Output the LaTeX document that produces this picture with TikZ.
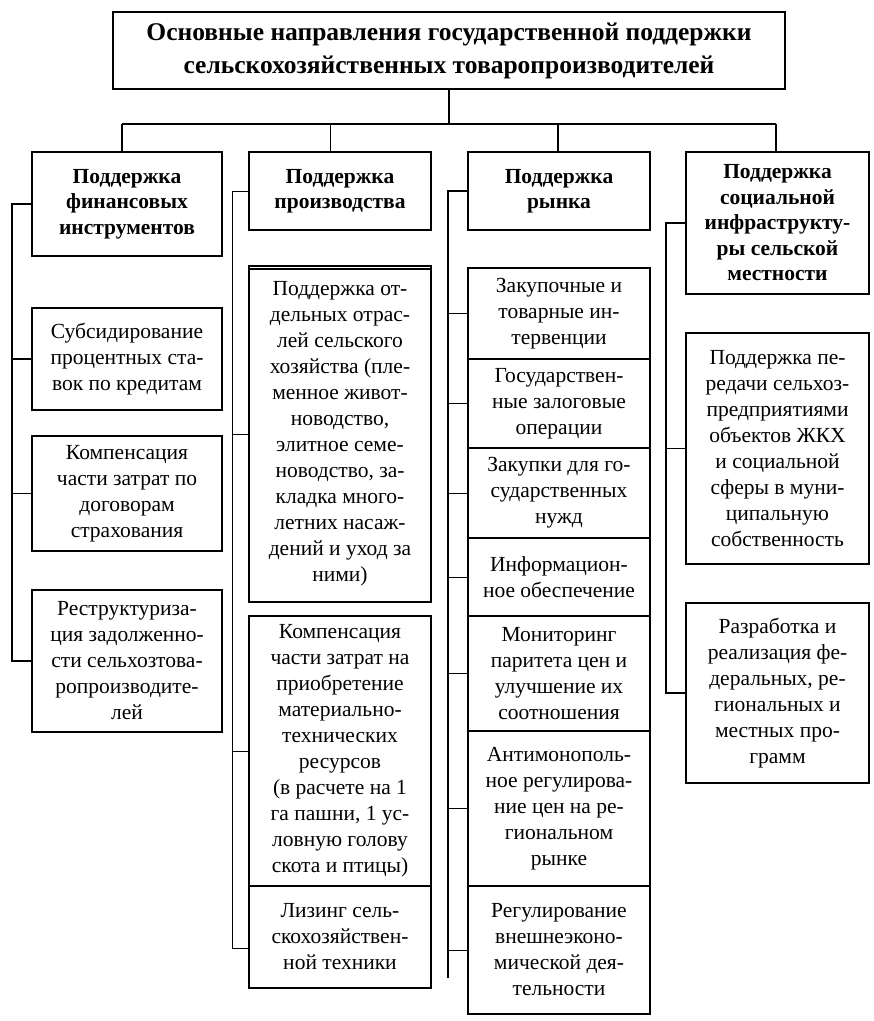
\documentclass[tikz,border=0pt]{standalone}
\usepackage{fontspec}
\setmainfont{Liberation Serif}
\usetikzlibrary{calc}
\tikzset{
  box/.style={draw, line width=2pt, inner sep=0pt, align=center, anchor=north west,
    font=\fontsize{21.5}{26}\selectfont},
  hbox/.style={box, font=\fontsize{21.5}{25.5}\selectfont\bfseries},
  tbox/.style={box, font=\fontsize{25.5}{33}\selectfont\bfseries},
  conn/.style={line width=1.6pt},
  thin conn/.style={line width=1pt}
}
\newcommand\bx[7]{\node[#6, minimum width={#4-#2}, minimum height={#5-#3}] (#1) at (#2,#3) {#7};}
\begin{document}
\begin{tikzpicture}[x=1pt,y=-1pt]
\useasboundingbox[fill=white] (0,0) rectangle (874,1021);
% title
\bx{top}{112}{11}{784}{88}{tbox}{Основные направления государственной поддержки\\сельскохозяйственных товаропроизводителей}
% headers
\bx{h1}{31}{151}{221}{255}{hbox}{Поддержка\\финансовых\\инструментов}
\bx{h2}{248}{151}{430}{229}{hbox}{Поддержка\\производства}
\bx{h3}{467}{151}{649}{229}{hbox}{Поддержка\\рынка}
\bx{h4}{685}{151}{868}{293}{hbox}{Поддержка\\социальной\\инфраструкту-\\ры сельской\\местности}
% column 1
\bx{c1a}{31}{307}{221}{409}{box}{Субсидирование\\процентных ста-\\вок по кредитам}
\bx{c1b}{31}{435}{221}{550}{box}{Компенсация\\части затрат по\\договорам\\страхования}
\bx{c1c}{31}{589}{221}{731}{box}{Реструктуриза-\\ция задолженно-\\сти сельхозтова-\\ропроизводите-\\лей}
% column 2
\bx{c2a}{248}{265}{430}{601}{box}{Поддержка от-\\дельных отрас-\\лей сельского\\хозяйства (пле-\\менное живот-\\новодство,\\элитное семе-\\новодство, за-\\кладка много-\\летних насаж-\\дений и уход за\\ними)}
\draw[line width=2pt] ([yshift=-4pt]c2a.north west) -- ([yshift=-4pt]c2a.north east);
\bx{c2b}{248}{615}{430}{885}{box}{Компенсация\\части затрат на\\приобретение\\материально-\\технических\\ресурсов\\(в расчете на 1\\га пашни, 1 ус-\\ловную голову\\скота и птицы)}
\bx{c2c}{248}{885}{430}{987}{box}{Лизинг сель-\\скохозяйствен-\\ной техники}
% column 3
\bx{c3a}{467}{267}{649}{358}{box}{Закупочные и\\товарные ин-\\тервенции}
\bx{c3b}{467}{358}{649}{447}{box}{Государствен-\\ные залоговые\\операции}
\bx{c3c}{467}{447}{649}{537}{box}{Закупки для го-\\сударственных\\нужд}
\bx{c3d}{467}{537}{649}{615}{box}{Информацион-\\ное обеспечение}
\bx{c3e}{467}{615}{649}{730}{box}{Мониторинг\\паритета цен и\\улучшение их\\соотношения}
\bx{c3f}{467}{730}{649}{885}{box}{Антимонополь-\\ное регулирова-\\ние цен на ре-\\гиональном\\рынке}
\bx{c3g}{467}{885}{649}{1013}{box}{Регулирование\\внешнеэконо-\\мической дея-\\тельности}
% column 4
\bx{c4a}{685}{332}{868}{563}{box}{Поддержка пе-\\редачи сельхоз-\\предприятиями\\объектов ЖКХ\\и социальной\\сферы в муни-\\ципальную\\собственность}
\bx{c4b}{685}{602}{868}{782}{box}{Разработка и\\реализация фе-\\деральных, ре-\\гиональных и\\местных про-\\грамм}
% top connectors
\coordinate (bL) at (122,124);
\coordinate (b2) at (330,124);
\coordinate (b3) at (558,124);
\coordinate (bR) at (776,124);
\draw[conn] (top.south) -- (top.south |- bL);
\draw[conn] (bL) -- (bR);
\draw[conn] (bL) -- (bL |- h1.north);
\draw[thin conn] (b2) -- (b2 |- h2.north);
\draw[conn] (b3) -- (b3 |- h3.north);
\draw[conn] (bR) -- (bR |- h4.north);
% column 1 bus
\coordinate (v1) at (12,0);
\draw[conn] (h1.west) -- (h1.west -| v1) -- (c1c.west -| v1) -- (c1c.west);
\draw[conn] (c1a.west -| v1) -- (c1a.west);
\draw[conn] (c1b.west -| v1) -- (c1b.west);
% column 2 bus
\coordinate (v2) at (232,0);
\coordinate (v2b) at (232,948);
\draw[thin conn] (h2.west) -- (h2.west -| v2) -- (v2b) -- (v2b -| c2c.west);
\draw[thin conn] (c2a.west -| v2) -- (c2a.west);
\draw[thin conn] (c2b.west -| v2) -- (c2b.west);
% column 3 bus
\coordinate (v3) at (448,0);
\coordinate (v3b) at (448,978);
\draw[conn] (h3.west) -- (h3.west -| v3) -- (v3b);
\foreach \n in {c3a,c3b,c3c,c3d,c3e,c3f,c3g}{\draw[thin conn] (\n.west -| v3) -- (\n.west);}
% column 4 bus
\coordinate (v4) at (666,0);
\draw[conn] (h4.west) -- (h4.west -| v4) -- (c4b.west -| v4) -- (c4b.west);
\draw[thin conn] (c4a.west -| v4) -- (c4a.west);
\end{tikzpicture}
\end{document}
